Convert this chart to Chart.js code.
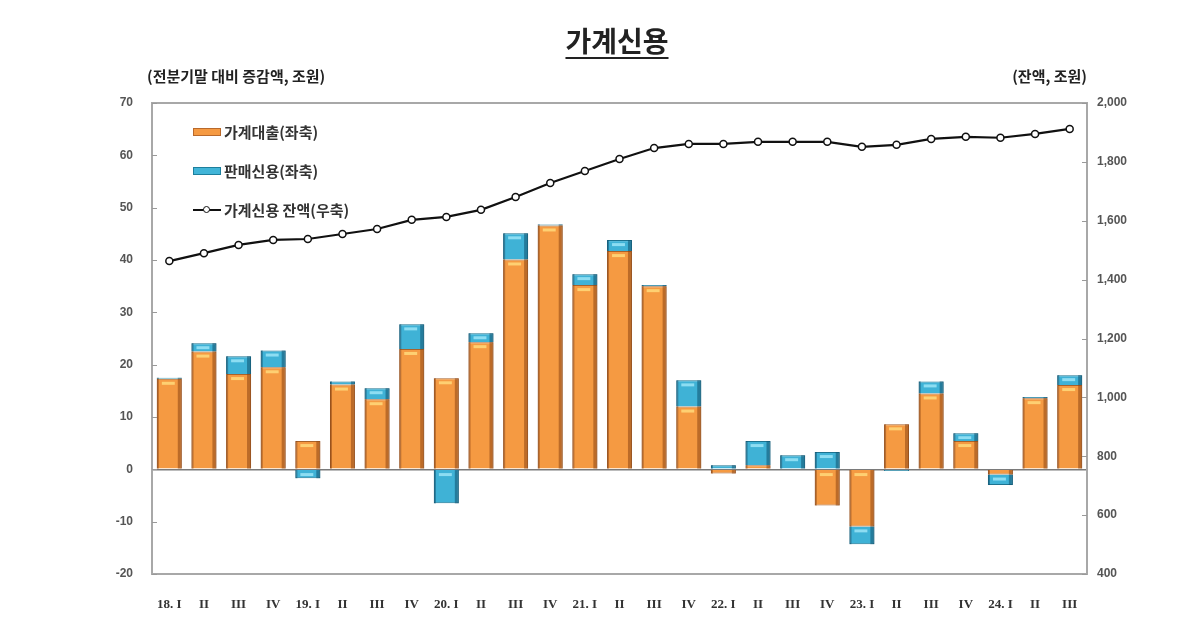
<!DOCTYPE html>
<html>
<head>
<meta charset="utf-8">
<script src="https://cdn.jsdelivr.net/npm/chart.js@4.4.1/dist/chart.umd.min.js"></script>
<style>
  html, body { margin: 0; padding: 0; background: #fff; }
  #wrap { position: relative; width: 1200px; height: 630px; overflow: hidden; }
  canvas { position: absolute; left: 0; top: 0; }
  .t { position: absolute; font-family: "Noto Sans CJK KR", sans-serif; color: #222; white-space: nowrap; }
  #title { left: 0; width: 1234px; top: 20px; text-align: center; font-size: 28px; font-weight: 700; }
  #title span { text-decoration: underline; text-underline-offset: 5px; text-decoration-thickness: 2px; }
  #ltitle { left: 147px; top: 65px; font-size: 15px; font-weight: 700; }
  #rtitle { right: 113px; top: 65px; font-size: 15px; font-weight: 700; }
  .lg { position: absolute; left: 193px; font-family: "Noto Sans CJK KR", sans-serif; font-size: 15px; font-weight: 700; color: #333; height: 20px; line-height: 20px; white-space: nowrap; }
  .sw { display: inline-block; width: 28px; height: 8px; vertical-align: middle; margin-right: 3px; margin-top: -3px; box-sizing: border-box; }
  .sw.o { background: #f59a42; border: 1px solid #b9692b; }
  .sw.b { background: #41b5d8; border: 1px solid #1d7f9d; }
  .ln { display: inline-block; position: relative; width: 28px; height: 20px; vertical-align: middle; margin-right: 3px; margin-top: -3px; }
  .ln::before { content: ""; position: absolute; left: 0; right: 0; top: 9px; height: 2px; background: #111; }
  .ln::after { content: ""; position: absolute; left: 10px; top: 6px; width: 5px; height: 5px; border: 1.5px solid #111; border-radius: 50%; background: #fff; }
</style>
</head>
<body>
<div id="wrap">
  <canvas id="c" width="1200" height="630"></canvas>
  <div class="t" id="title"><span>가계신용</span></div>
  <div class="t" id="ltitle">(전분기말 대비 증감액, 조원)</div>
  <div class="t" id="rtitle">(잔액, 조원)</div>
  <div class="lg" style="top:122px"><span class="sw o"></span>가계대출(좌축)</div>
  <div class="lg" style="top:161px"><span class="sw b"></span>판매신용(좌축)</div>
  <div class="lg" style="top:200px"><span class="ln"></span>가계신용 잔액(우축)</div>
</div>
<script>
const categories = ["18. I","II","III","IV","19. I","II","III","IV","20. I","II","III","IV","21. I","II","III","IV","22. I","II","III","IV","23. I","II","III","IV","24. I","II","III"];
const householdLoans = [17.3,22.5,18.2,19.5,5.4,16.2,13.4,23.0,17.4,24.3,40.1,46.6,35.2,41.7,35.0,12.0,-0.8,0.8,0.0,-6.9,-10.9,8.6,14.5,5.4,-1.0,13.6,16.1];
const salesCredit = [0.2,1.6,3.4,3.2,-1.7,0.6,2.1,4.7,-6.5,1.7,5.0,0.2,2.1,2.1,0.2,5.0,0.8,4.6,2.7,3.3,-3.4,-0.3,2.3,1.5,-2.0,0.2,1.9];
const creditBalance = [1463,1490,1518,1535,1538,1555,1572,1603,1613,1637,1681,1728,1769,1810,1847,1861,1861,1868,1868,1868,1851,1858,1878,1885,1882,1895,1912];
const leftTicks = [-20,-10,0,10,20,30,40,50,60,70];
const rightTicks = [400,600,800,1000,1200,1400,1600,1800,2000];

const frame = {
  id: 'frame',
  afterDatasetsDraw(chart) {
    const {ctx, chartArea: a, scales} = chart;
    ctx.save();
    ctx.strokeStyle = '#a8a8a8';
    ctx.lineWidth = 2;
    ctx.strokeRect(a.left, a.top, a.right - a.left, a.bottom - a.top);
    ctx.lineWidth = 1;
    ctx.strokeStyle = '#999';
    leftTicks.forEach(v => {
      const y = Math.round(scales.y.getPixelForValue(v)) + 0.5;
      ctx.beginPath(); ctx.moveTo(a.left, y); ctx.lineTo(a.left + 5, y); ctx.stroke();
    });
    rightTicks.forEach(v => {
      const y = Math.round(scales.y1.getPixelForValue(v)) + 0.5;
      ctx.beginPath(); ctx.moveTo(a.right, y); ctx.lineTo(a.right - 5, y); ctx.stroke();
    });
    ctx.restore();
  }
};

// 3D-like shading on top of each bar element (positions taken from Chart.js elements)
const shade = {
  id: 'shade',
  afterDatasetDraw(chart, args) {
    const ds = chart.data.datasets[args.index];
    if (ds.type !== 'bar') return;
    const ctx = chart.ctx;
    const dark = ds.shadeDark, light = ds.shadeLight;
    args.meta.data.forEach(el => {
      const p = el.getProps(['x', 'y', 'base', 'width'], true);
      const l = p.x - p.width / 2, r = p.x + p.width / 2;
      const top = Math.min(p.y, p.base), bot = Math.max(p.y, p.base);
      const h = bot - top;
      if (h < 1) return;
      ctx.save();
      ctx.fillStyle = dark;
      ctx.fillRect(r - 4, top, 4, h);
      ctx.fillRect(l, top, 2, h);
      if (h > 6) {
        ctx.fillStyle = light;
        ctx.fillRect(l + 5, top + 3, r - l - 12, Math.min(3, h - 5));
      }
      ctx.restore();
    });
  }
};

const tickFont = { family: 'Liberation Sans', size: 12, weight: 'bold' };

new Chart(document.getElementById('c'), {
  data: {
    labels: categories,
    datasets: [
      {
        type: 'line', label: '가계신용 잔액(우축)', data: creditBalance, yAxisID: 'y1', order: 0,
        borderColor: '#111', borderWidth: 2.2, pointRadius: 3.5, pointBorderWidth: 1.5,
        pointBackgroundColor: '#fff', pointBorderColor: '#111', tension: 0
      },
      {
        type: 'bar', label: '가계대출(좌축)', data: householdLoans, yAxisID: 'y', stack: 's', order: 1,
        backgroundColor: '#f59a42', borderColor: '#a8622a', borderWidth: 1,
        barPercentage: 0.72, categoryPercentage: 1,
        shadeDark: 'rgba(140,70,20,0.55)', shadeLight: 'rgba(255,214,120,0.9)'
      },
      {
        type: 'bar', label: '판매신용(좌축)', data: salesCredit, yAxisID: 'y', stack: 's', order: 1,
        backgroundColor: '#3fb2d6', borderColor: '#1d7390', borderWidth: 1,
        barPercentage: 0.72, categoryPercentage: 1,
        shadeDark: 'rgba(15,80,110,0.55)', shadeLight: 'rgba(150,225,245,0.9)'
      }
    ]
  },
  options: {
    responsive: false,
    animation: false,
    devicePixelRatio: 1,
    layout: { padding: { top: 103, left: 0, right: 0, bottom: 0 } },
    plugins: { legend: { display: false }, tooltip: { enabled: false }, title: { display: false } },
    scales: {
      x: {
        stacked: true,
        grid: { display: false },
        border: { display: false },
        ticks: { font: { family: 'Liberation Serif', size: 13, weight: 'bold' }, color: '#333', maxRotation: 0, autoSkip: false, padding: 15 },
        afterFit(s) { s.height = 56; }
      },
      y: {
        position: 'left', stacked: true, min: -20, max: 70,
        afterBuildTicks(s) { s.ticks = leftTicks.map(v => ({ value: v })); },
        grid: { drawTicks: false, color: c => c.tick && c.tick.value === 0 ? '#7a7a7a' : 'rgba(0,0,0,0)', lineWidth: 1.5 },
        border: { display: false },
        ticks: { font: tickFont, color: '#555', padding: 19 },
        afterFit(s) { s.width = 152; }
      },
      y1: {
        position: 'right', min: 400, max: 2000,
        afterBuildTicks(s) { s.ticks = rightTicks.map(v => ({ value: v })); },
        grid: { display: false, drawTicks: false },
        border: { display: false },
        ticks: { font: tickFont, color: '#555', padding: 10, callback: v => v.toLocaleString('en-US') },
        afterFit(s) { s.width = 113; }
      }
    }
  },
  plugins: [frame, shade]
});
</script>
</body>
</html>
